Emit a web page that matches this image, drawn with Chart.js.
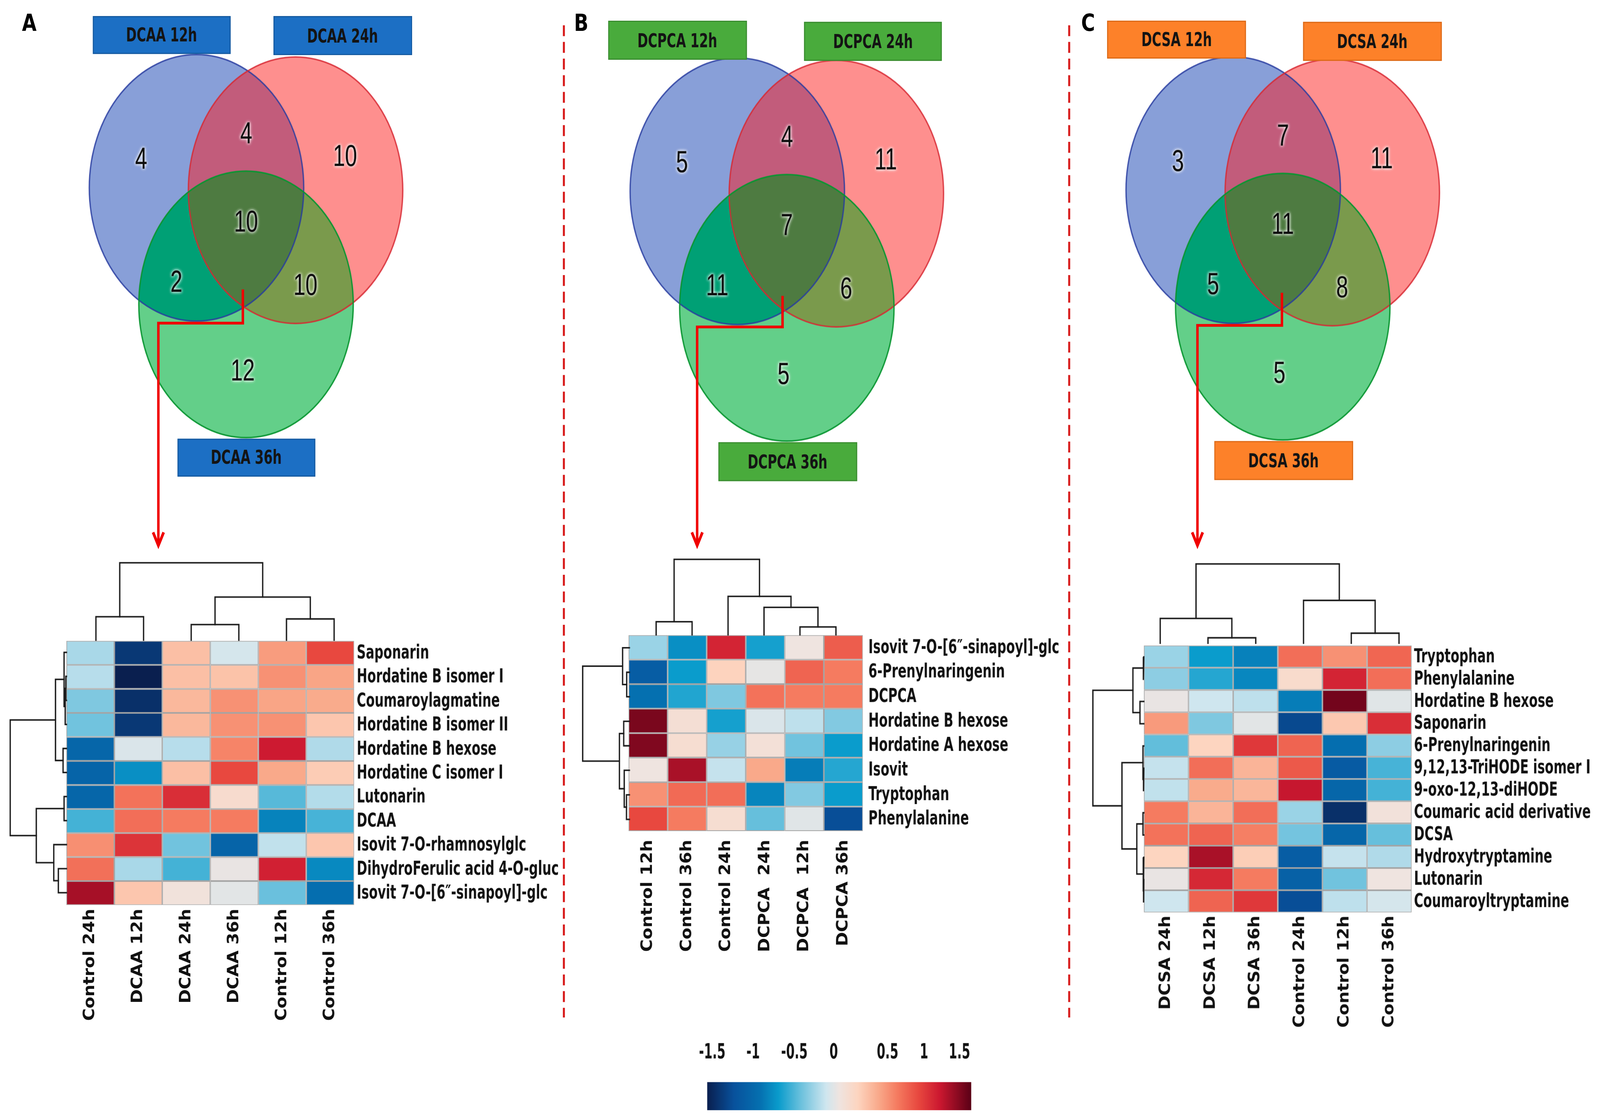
<!DOCTYPE html>
<html><head><meta charset="utf-8">
<script src="https://cdn.jsdelivr.net/npm/chart.js@4.4.1/dist/chart.umd.min.js"></script>
<style>
html,body{margin:0;padding:0;background:#fff;overflow:hidden;width:100%;height:100%}
#stage{position:absolute;left:0;top:0;width:1568px;height:970px;transform-origin:0 0;background:#fff}
#stage canvas{position:absolute}
.box{position:absolute;display:flex;align-items:center;justify-content:center;box-sizing:border-box;font-weight:bold;color:#141414;white-space:nowrap}
.box span{display:inline-block}
.letter{position:absolute;font-weight:bold;color:#000;line-height:1}
</style></head><body><div id="stage"></div>
<script>
// ================= DATA =================
const vennSetsA = ['DCAA 12h', 'DCAA 24h', 'DCAA 36h'];
const vennSetsB = ['DCPCA 12h', 'DCPCA 24h', 'DCPCA 36h'];
const vennSetsC = ['DCSA 12h', 'DCSA 24h', 'DCSA 36h'];
// region order: only 12h, only 24h, only 36h, 12h&24h, 12h&36h, 24h&36h, all three
const vennCountsA = [4, 10, 12, 4, 2, 10, 10];
const vennCountsB = [5, 11, 5, 4, 11, 6, 7];
const vennCountsC = [3, 11, 5, 7, 5, 8, 11];

const rowsA = ['Saponarin', 'Hordatine B isomer I', 'Coumaroylagmatine', 'Hordatine B isomer II',
  'Hordatine B hexose', 'Hordatine C isomer I', 'Lutonarin', 'DCAA', 'Isovit 7-O-rhamnosylglc',
  'DihydroFerulic acid 4-O-gluc', 'Isovit 7-O-[6\u2033-sinapoyl]-glc'];
const colsA = ['Control 24h', 'DCAA 12h', 'DCAA 24h', 'DCAA 36h', 'Control 12h', 'Control 36h'];
const valuesA = [
  [-0.26, -1.35, 0.33, -0.12, 0.51, 0.90],
  [-0.22, -1.50, 0.33, 0.31, 0.56, 0.47],
  [-0.38, -1.40, 0.37, 0.56, 0.47, 0.44],
  [-0.42, -1.35, 0.37, 0.56, 0.56, 0.29],
  [-1.00, -0.10, -0.22, 0.62, 1.13, -0.24],
  [-1.02, -0.75, 0.33, 0.90, 0.45, 0.26],
  [-1.00, 0.70, 1.03, 0.12, -0.49, -0.23],
  [-0.54, 0.72, 0.66, 0.66, -0.81, -0.53],
  [0.57, 1.00, -0.42, -1.02, -0.19, 0.29],
  [0.71, -0.26, -0.54, -0.03, 1.10, -0.78],
  [1.26, 0.29, 0.03, -0.06, -0.44, -0.92]
];
// dendrogram merges: [childA, childB, height]; new node ids continue after the leaves
const colTreeA = [[2, 3, 13.5], [4, 5, 18.4], [0, 1, 20.3], [6, 7, 37.4], [8, 9, 67.2]];
const rowTreeA = [[1, 2, 0.6], [11, 3, 1.2], [0, 12, 2.3], [4, 5, 3.3], [13, 14, 10.7],
  [6, 7, 2.3], [9, 10, 7.9], [8, 17, 12.4], [16, 18, 29.5], [15, 19, 55.0]];

const rowsB = ['Isovit 7-O-[6\u2033-sinapoyl]-glc', '6-Prenylnaringenin', 'DCPCA', 'Hordatine B hexose',
  'Hordatine A hexose', 'Isovit', 'Tryptophan', 'Phenylalanine'];
const colsB = ['Control 12h', 'Control 36h', 'Control 24h', 'DCPCA  24h', 'DCPCA  12h', 'DCPCA 36h'];
const valuesB = [
  [-0.30, -0.75, 1.08, -0.66, 0.00, 0.80],
  [-1.08, -0.69, 0.22, -0.04, 0.77, 0.66],
  [-0.90, -0.63, -0.38, 0.70, 0.66, 0.66],
  [1.40, 0.08, -0.66, -0.10, -0.20, -0.37],
  [1.38, 0.10, -0.31, 0.06, -0.42, -0.69],
  [0.00, 1.25, -0.18, 0.45, -0.84, -0.62],
  [0.56, 0.74, 0.72, -0.80, -0.37, -0.69],
  [0.90, 0.66, 0.10, -0.45, -0.07, -1.22]
];
const colTreeB = [[4, 5, 6.8], [0, 1, 11.3], [3, 6, 23.8], [2, 8, 33.3], [7, 9, 65.5]];
const rowTreeB = [[1, 2, 2.6], [0, 8, 6.6], [3, 4, 5.5], [6, 7, 2.8], [5, 11, 5.0], [10, 12, 9.7], [9, 13, 45.5]];

const rowsC = ['Tryptophan', 'Phenylalanine', 'Hordatine B hexose', 'Saponarin', '6-Prenylnaringenin',
  '9,12,13-TriHODE isomer I', '9-oxo-12,13-diHODE', 'Coumaric acid derivative', 'DCSA',
  'Hydroxytryptamine', 'Lutonarin', 'Coumaroyltryptamine'];
const colsC = ['DCSA 24h', 'DCSA 12h', 'DCSA 36h', 'Control 24h', 'Control 12h', 'Control 36h'];
const valuesC = [
  [-0.30, -0.69, -0.82, 0.72, 0.56, 0.76],
  [-0.34, -0.62, -0.79, 0.13, 1.08, 0.72],
  [-0.03, -0.15, -0.20, -0.84, 1.42, -0.07],
  [0.52, -0.38, -0.06, -1.25, 0.28, 1.03],
  [-0.46, 0.21, 0.98, 0.77, -0.92, -0.34],
  [-0.18, 0.72, 0.39, 0.82, -1.10, -0.53],
  [-0.19, 0.44, 0.38, 1.16, -1.00, -0.54],
  [0.66, 0.39, 0.72, -0.30, -1.40, 0.04],
  [0.70, 0.77, 0.64, -0.41, -1.00, -0.45],
  [0.21, 1.25, 0.25, -1.08, -0.18, -0.24],
  [-0.03, 1.06, 0.66, -1.05, -0.42, 0.00],
  [-0.15, 0.77, 0.98, -1.22, -0.20, -0.12]
];
const colTreeC = [[1, 2, 4.7], [4, 5, 8.7], [0, 6, 21.5], [3, 7, 37.2], [8, 9, 68.9]];
const rowTreeC = [[0, 1, 0.6], [2, 3, 3.7], [12, 13, 10.6], [5, 6, 0.4], [4, 15, 0.8], [7, 8, 0.8],
  [10, 11, 0.3], [9, 18, 0.6], [17, 19, 6.8], [16, 20, 21.3], [14, 21, 49.7]];

const colorbarLabels = ['-1.5', '-1', '-0.5', '0', '0.5', '1', '1.5'];
const colorbarLabelAt = [0.019, 0.174, 0.330, 0.479, 0.683, 0.821, 0.955];
const valueMin = -1.5, valueMax = 1.5;

// ================= STYLE / LAYOUT =================
const cmapStops = [[0, '#0a1f4f'], [0.1, '#08519c'], [0.2, '#0570b0'], [0.27, '#0a9ccc'], [0.35, '#66bfdc'],
  [0.45, '#cfe6ef'], [0.5, '#efe4e0'], [0.57, '#fdd5c0'], [0.65, '#f9a98a'], [0.72, '#f57b60'],
  [0.8, '#e8483f'], [0.88, '#cc1830'], [1, '#5a0016']];
const vennColors = {a: '#889fd8', b: '#fe8f8e', c: '#63cf89', ab: '#c25c7b', ac: '#00a075', bc: '#7a9a4c', abc: '#4e7b41',
  sa: 'rgba(40,60,160,0.85)', sb: 'rgba(215,40,50,0.85)', sc: 'rgba(10,150,50,0.95)'};
const L = {
  venn: {ux: 105, uy: 116, centers: [[-0.462, 0.298], [0.462, 0.28], [0, -0.577]],
    labelAt: [[-0.978, 0.512], [0.923, 0.534], [-0.031, -1.078], [0.002, 0.703], [-0.65, -0.412], [0.554, -0.434], [0, 0.04]]},
  boxW: 135.5, boxH: 33.5,
  A: {origin: [240.5, 197.6], boxes: [[90.6, 13.6], [268, 14.3], [173.6, 381.7]], boxBg: '#1c6fc4', boxBd: '#165aa0',
      letter: ['A', 21.5, 9.5], heat: {l: 64.5, t: 557.5, r: 346.5, b: 787.4}, rowPad: 2.5, colPad: 3.2,
      top: {leaf0: 94.1, leafN: 327.4, base: 557.5},
      arrow: [[238, 252], [238, 281.4], [155.2, 281.4], [155.2, 475]]},
  B: {origin: [770.8, 201.5], boxes: [[596, 18], [787.8, 19], [704, 385]], boxBg: '#49ab3c', boxBd: '#3a8c30',
      letter: ['B', 562.5, 9.5], heat: {l: 616.1, t: 552.9, r: 845.6, b: 723.5}, rowPad: 5.4, colPad: 7.5,
      top: {leaf0: 643, leafN: 818.9, base: 552},
      arrow: [[766.9, 257.6], [766.9, 284.7], [683.2, 284.7], [683.2, 475]]},
  C: {origin: [1257.35, 200], boxes: [[1085.3, 17.6], [1277, 19], [1190, 384.4]], boxBg: '#fd8129', boxBd: '#dc6a18',
      letter: ['C', 1059.5, 9.5], heat: {l: 1121, t: 562.4, r: 1383.3, b: 794.8}, rowPad: 2.3, colPad: 2.7,
      top: {leaf0: 1136.7, leafN: 1370.6, base: 560},
      arrow: [[1256.3, 254.9], [1256.3, 283.3], [1173.5, 283.3], [1173.5, 475]]},
  colorbar: {l: 693, r: 951.7, t: 942, b: 966.5, labelCenter: 916.8},
  separators: [552.6, 1047.8], sepTop: 22, sepBottom: 886
};

// ================= SETUP =================
const VW = window.innerWidth || document.documentElement.clientWidth || 4610;
const VH = window.innerHeight || document.documentElement.clientHeight || 2851;
const SX = VW / 1568, SY = VH / 970;
const stage = document.getElementById('stage');
stage.style.transform = 'scale(' + SX + ',' + SY + ')';
const DPR = Math.max(SX, SY) * (window.devicePixelRatio || 1);

const mctx = document.createElement('canvas').getContext('2d');
function hasFont(fam) {
  const s = 'DihydroFerulic acid 4-O-gluc 0123';
  mctx.font = 'bold 40px monospace'; const w0 = mctx.measureText(s).width;
  mctx.font = 'bold 40px "' + fam + '", monospace'; const w1 = mctx.measureText(s).width;
  return Math.abs(w0 - w1) > 0.5;
}
const NARROW = hasFont('Liberation Sans Narrow') ? '"Liberation Sans Narrow", "Liberation Sans", Arial, sans-serif'
  : (hasFont('DejaVu Sans Condensed') ? '"DejaVu Sans Condensed", "Liberation Sans", sans-serif' : '"Liberation Sans", Arial, sans-serif');
const COLF = '"DejaVu Sans", Verdana, sans-serif';
const NUMF = '"Liberation Sans", Arial, sans-serif';
function fit(family, weight, text, target) {
  mctx.font = weight + ' 100px ' + family; return 100 * target / mctx.measureText(text).width;
}
mctx.font = 'bold 100px ' + NARROW;
const CAP = (mctx.measureText('H').actualBoundingBoxAscent || 72) / 100;
const clamp = (v, a, b) => Math.max(a, Math.min(b, v));
const rowSize = fit(NARROW, 'bold', 'DihydroFerulic acid 4-O-gluc', 198);
const rowStretch = clamp(12.4 / (CAP * rowSize), 1, 1.6);
const colSize = fit(COLF, 'bold', 'Control 24h', 97.6);
const boxSize = fit(NARROW, 'bold', 'DCAA 12h', 69.6);
const boxStretch = clamp(12.2 / (CAP * boxSize), 1, 1.6);
const cbSize = fit(NARROW, 'bold', '-1.5', 26);
const cbStretch = clamp(13.3 / (CAP * cbSize), 1, 1.6);
const numSize = fit(NUMF, 'normal', '10', 23.5);
const letterSize = 15 / CAP;

function hexToRgb(h) { const n = parseInt(h.slice(1), 16); return [(n >> 16) & 255, (n >> 8) & 255, n & 255]; }
function cellColor(v) {
  let f = (v - valueMin) / (valueMax - valueMin); f = clamp(f, 0, 1);
  for (let i = 1; i < cmapStops.length; i++) {
    if (f <= cmapStops[i][0]) {
      const [f0, c0] = cmapStops[i - 1], [f1, c1] = cmapStops[i];
      const t = (f - f0) / (f1 - f0), a = hexToRgb(c0), b = hexToRgb(c1);
      return 'rgb(' + a.map((x, k) => Math.round(x + (b[k] - x) * t)).join(',') + ')';
    }
  }
  return cmapStops[cmapStops.length - 1][1];
}

function addCanvas(left, top, w, h) {
  const W = Math.ceil(w), H = Math.ceil(h);
  const c = document.createElement('canvas');
  c.width = W; c.height = H;
  c.style.left = left + 'px'; c.style.top = top + 'px'; c.style.width = W + 'px'; c.style.height = H + 'px';
  stage.appendChild(c);
  return {canvas: c, padR: W - w, padB: H - h};
}
const baseOpts = () => ({responsive: false, animation: false, devicePixelRatio: DPR, events: [],
  plugins: {legend: {display: false}, tooltip: {enabled: false}}});

// draws text vertically stretched (matches the tall condensed lettering of the figure)
function stretchedText(ctx, text, x, y, k) {
  ctx.save(); ctx.translate(x, y); ctx.scale(1, k); ctx.fillText(text, 0, 0); ctx.restore();
}

// ================= VENN =================
const vennPlugin = {
  id: 'venn',
  beforeDatasetsDraw(chart) {
    const xs = chart.scales.x, ys = chart.scales.y, ctx = chart.ctx;
    const E = chart.data.datasets.slice(0, 3).map(ds => {
      const p = ds.data[0];
      const cx = xs.getPixelForValue(p.x), cy = ys.getPixelForValue(p.y);
      return {cx, cy, rx: Math.abs(xs.getPixelForValue(p.x + p.r) - cx), ry: Math.abs(ys.getPixelForValue(p.y + p.r) - cy)};
    });
    const path = e => { ctx.beginPath(); ctx.ellipse(e.cx, e.cy, e.rx, e.ry, 0, 0, Math.PI * 2); };
    const fillE = (e, col) => { path(e); ctx.fillStyle = col; ctx.fill(); };
    const clipFill = (clips, e, col) => { ctx.save(); clips.forEach(c => { path(c); ctx.clip(); }); fillE(e, col); ctx.restore(); };
    const [A, B, C] = E, V = vennColors;
    ctx.save();
    fillE(A, V.a); fillE(B, V.b); fillE(C, V.c);
    clipFill([A], B, V.ab); clipFill([A], C, V.ac); clipFill([B], C, V.bc); clipFill([A, B], C, V.abc);
    ctx.lineWidth = 1.3;
    [[A, V.sa], [B, V.sb], [C, V.sc]].forEach(([e, s]) => { path(e); ctx.strokeStyle = s; ctx.stroke(); });
    ctx.restore();
  },
  afterDatasetsDraw(chart, args, opts) {
    const ctx = chart.ctx, meta = chart.getDatasetMeta(3);
    ctx.save();
    ctx.font = numSize + 'px ' + NUMF; ctx.textAlign = 'center'; ctx.textBaseline = 'middle';
    ctx.shadowColor = 'rgba(255,255,255,0.95)'; ctx.shadowBlur = 3 * DPR;
    ctx.fillStyle = '#0d0d0d';
    meta.data.forEach((pt, i) => {
      stretchedText(ctx, String(opts.counts[i]), pt.x, pt.y + 1, 1.25);
      stretchedText(ctx, String(opts.counts[i]), pt.x, pt.y + 1, 1.25);
    });
    ctx.restore();
  }
};

function makeVenn(key, sets, counts) {
  const lay = L[key], V = L.venn;
  const xr = [-1.6, 1.6], yr = [-1.72, 1.38];
  const left = lay.origin[0] + xr[0] * V.ux, top = lay.origin[1] - yr[1] * V.uy;
  const cv = addCanvas(left, top, (xr[1] - xr[0]) * V.ux, (yr[1] - yr[0]) * V.uy);
  const o = baseOpts();
  o.layout = {padding: {left: 0, top: 0, right: cv.padR, bottom: cv.padB}};
  o.scales = {x: {type: 'linear', min: xr[0], max: xr[1], display: false}, y: {type: 'linear', min: yr[0], max: yr[1], display: false}};
  o.plugins.venn = {counts};
  new Chart(cv.canvas, {
    type: 'scatter',
    data: {datasets: [
      ...V.centers.map((c, i) => ({label: sets[i], data: [{x: c[0], y: c[1], r: 1}], pointRadius: 0})),
      {label: 'counts', data: V.labelAt.map(p => ({x: p[0], y: p[1]})), pointRadius: 0}
    ]},
    options: o, plugins: [vennPlugin]
  });
  lay.boxes.forEach((b, i) => {
    const d = document.createElement('div'); d.className = 'box';
    d.style.left = b[0] + 'px'; d.style.top = b[1] + 'px'; d.style.width = L.boxW + 'px'; d.style.height = L.boxH + 'px';
    d.style.background = lay.boxBg; d.style.border = '1px solid ' + lay.boxBd;
    d.style.fontFamily = NARROW; d.style.fontSize = boxSize + 'px';
    const sp = document.createElement('span'); sp.textContent = sets[i]; sp.style.transform = 'scaleY(' + boxStretch + ')';
    d.appendChild(sp); stage.appendChild(d);
  });
  const lt = document.createElement('div'); lt.className = 'letter';
  lt.style.left = lay.letter[1] + 'px'; lt.style.top = lay.letter[2] + 'px';
  lt.style.fontFamily = NARROW; lt.style.fontSize = letterSize + 'px'; lt.textContent = lay.letter[0];
  stage.appendChild(lt);
}

// ================= HEATMAP =================
const rowLabelPlugin = {
  id: 'rowLabels',
  afterDraw(chart, args, opts) {
    const ys = chart.scales.y, ctx = chart.ctx, x0 = chart.chartArea.right + opts.pad;
    ctx.save();
    ctx.font = 'bold ' + rowSize + 'px ' + NARROW; ctx.fillStyle = '#111';
    ctx.textAlign = 'left'; ctx.textBaseline = 'middle';
    chart.data.labels.forEach((lab, i) => stretchedText(ctx, lab, x0, ys.getPixelForValue(i) + 0.5, rowStretch));
    ctx.restore();
  }
};
function makeHeatmap(key, rows, cols, values) {
  const lay = L[key], a = lay.heat;
  const padT = 4, padL = 2, yW = 215, xH = 115;
  const cv = addCanvas(a.l - padL, a.t - padT, padL + (a.r - a.l) + yW, padT + (a.b - a.t) + xH);
  const o = baseOpts();
  o.indexAxis = 'y';
  o.layout = {padding: {left: padL, top: padT, right: yW + cv.padR, bottom: cv.padB}};
  o.plugins.rowLabels = {pad: lay.rowPad};
  o.scales = {
    x: {type: 'linear', stacked: true, min: 0, max: cols.length, position: 'bottom',
      grid: {display: false, drawTicks: false}, border: {display: false},
      afterBuildTicks: s => { s.ticks = cols.map((_, j) => ({value: j + 0.5})); },
      afterFit: s => { s.height = xH; },
      ticks: {autoSkip: false, minRotation: 90, maxRotation: 90, padding: lay.colPad, color: '#111',
        font: {family: COLF, size: colSize, weight: 'bold'}, callback: (v, i) => cols[i]}},
    y: {type: 'category', stacked: true, display: false}
  };
  new Chart(cv.canvas, {
    type: 'bar',
    data: {labels: rows, datasets: cols.map((c, j) => ({
      label: c, data: rows.map(() => 1), backgroundColor: rows.map((_, i) => cellColor(values[i][j])),
      borderColor: '#a4a4a4', borderWidth: 0.7, borderSkipped: false, inflateAmount: 0,
      barPercentage: 1, categoryPercentage: 1}))},
    options: o, plugins: [rowLabelPlugin]
  });
}

// ================= DENDROGRAM =================
function dendroSegments(merges, n) {
  const pos = [], h = [], segs = [];
  for (let i = 0; i < n; i++) { pos[i] = i; h[i] = 0; }
  merges.forEach(([a, b, ht], k) => {
    segs.push([[pos[a], h[a]], [pos[a], ht], [pos[b], ht], [pos[b], h[b]]]);
    pos[n + k] = (pos[a] + pos[b]) / 2; h[n + k] = ht;
  });
  return segs;
}
function makeDendro(merges, n, orient, g) {
  const segs = dendroSegments(merges, n);
  const maxH = Math.max(...merges.map(m => m[2]));
  const pad = 3;
  let cv, scales;
  if (orient === 'top') {
    cv = addCanvas(g.leaf0 - pad, g.base - maxH - pad, g.leafN - g.leaf0 + 2 * pad, maxH + 2 * pad);
    scales = {x: {type: 'linear', min: 0, max: n - 1, display: false}, y: {type: 'linear', min: 0, max: maxH, display: false}};
  } else {
    cv = addCanvas(g.base - maxH - pad, g.leaf0 - pad, maxH + 2 * pad, g.leafN - g.leaf0 + 2 * pad);
    scales = {x: {type: 'linear', min: 0, max: maxH, reverse: true, display: false},
      y: {type: 'linear', min: 0, max: n - 1, reverse: true, display: false}};
  }
  const o = baseOpts();
  o.layout = {padding: {left: pad, top: pad, right: pad + cv.padR, bottom: pad + cv.padB}};
  o.scales = scales;
  new Chart(cv.canvas, {
    type: 'scatter',
    data: {datasets: segs.map(s => ({
      data: s.map(([p, ht]) => orient === 'top' ? {x: p, y: ht} : {x: ht, y: p}),
      showLine: true, borderColor: '#1c1c1c', borderWidth: 1.3, pointRadius: 0, tension: 0, clip: 4,
      borderCapStyle: 'square', borderJoinStyle: 'miter'}))},
    options: o
  });
}
function leftGeom(key, nRows) {
  const a = L[key].heat, rh = (a.b - a.t) / nRows;
  return {leaf0: a.t + rh / 2, leafN: a.b - rh / 2, base: a.l};
}

// ================= COLORBAR =================
const cbLabelPlugin = {
  id: 'cbLabels',
  afterDraw(chart, args, opts) {
    const xs = chart.scales.x, ctx = chart.ctx, y = chart.chartArea.top - opts.dy;
    ctx.save();
    ctx.font = 'bold ' + cbSize + 'px ' + NARROW; ctx.fillStyle = '#111';
    ctx.textAlign = 'center'; ctx.textBaseline = 'middle';
    colorbarLabels.forEach((lab, i) => stretchedText(ctx, lab, xs.getPixelForValue(colorbarLabelAt[i]), y, cbStretch));
    ctx.restore();
  }
};
function makeColorbar() {
  const c = L.colorbar, padX = 30, padTop = 45;
  const cv = addCanvas(c.l - padX, c.t - padTop, (c.r - c.l) + 2 * padX, padTop + (c.b - c.t));
  const o = baseOpts();
  o.indexAxis = 'y';
  o.layout = {padding: {left: padX, top: padTop, right: padX + cv.padR, bottom: cv.padB}};
  o.plugins.cbLabels = {dy: c.t - c.labelCenter};
  o.scales = {x: {type: 'linear', min: 0, max: 1, display: false}, y: {type: 'category', display: false}};
  new Chart(cv.canvas, {
    type: 'bar',
    data: {labels: [''], datasets: [{data: [1], barPercentage: 1, categoryPercentage: 1, borderWidth: 0, inflateAmount: 0,
      backgroundColor: ctx => {
        const ca = ctx.chart.chartArea; if (!ca) return '#ccc';
        const g = ctx.chart.ctx.createLinearGradient(ca.left, 0, ca.right, 0);
        cmapStops.forEach(([f, col]) => g.addColorStop(f, col));
        return g;
      }}]},
    options: o, plugins: [cbLabelPlugin]
  });
}

// ================= BUILD =================
makeVenn('A', vennSetsA, vennCountsA);
makeVenn('B', vennSetsB, vennCountsB);
makeVenn('C', vennSetsC, vennCountsC);

makeHeatmap('A', rowsA, colsA, valuesA);
makeHeatmap('B', rowsB, colsB, valuesB);
makeHeatmap('C', rowsC, colsC, valuesC);

makeDendro(colTreeA, colsA.length, 'top', L.A.top);
makeDendro(colTreeB, colsB.length, 'top', L.B.top);
makeDendro(colTreeC, colsC.length, 'top', L.C.top);
makeDendro(rowTreeA, rowsA.length, 'left', leftGeom('A', rowsA.length));
makeDendro(rowTreeB, rowsB.length, 'left', leftGeom('B', rowsB.length));
makeDendro(rowTreeC, rowsC.length, 'left', leftGeom('C', rowsC.length));

makeColorbar();

// separators and arrows (annotation overlay)
(function () {
  const parts = [];
  L.separators.forEach(x => parts.push('<line x1="' + x + '" y1="' + L.sepTop + '" x2="' + x + '" y2="' + L.sepBottom +
    '" stroke="#d81e1e" stroke-width="2" stroke-dasharray="9.5 5"/>'));
  ['A', 'B', 'C'].forEach(k => {
    const p = L[k].arrow, t = p[p.length - 1];
    const shaft = p.slice(0, -1).concat([[t[0], t[1] - 2]]);
    parts.push('<polyline points="' + shaft.map(q => q.join(',')).join(' ') + '" fill="none" stroke="#f00000" stroke-width="2.4" stroke-linejoin="miter"/>');
    parts.push('<polyline points="' + (t[0] - 5.2) + ',' + (t[1] - 11.5) + ' ' + t[0] + ',' + t[1] + ' ' + (t[0] + 5.2) + ',' + (t[1] - 11.5) +
      '" fill="none" stroke="#f00000" stroke-width="2.6" stroke-linejoin="miter"/>');
  });
  const svg = document.createElementNS('http://www.w3.org/2000/svg', 'svg');
  svg.setAttribute('width', '1568'); svg.setAttribute('height', '970'); svg.setAttribute('viewBox', '0 0 1568 970');
  svg.style.position = 'absolute'; svg.style.left = '0'; svg.style.top = '0';
  svg.innerHTML = parts.join('');
  stage.appendChild(svg);
})();
</script></body></html>
